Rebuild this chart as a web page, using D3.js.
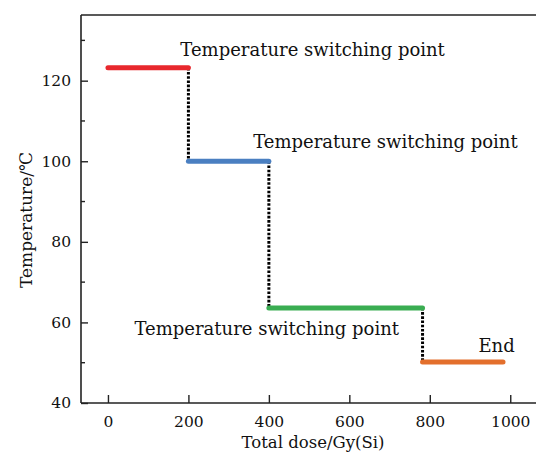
<!DOCTYPE html>
<html>
<head>
<meta charset="utf-8">
<script src="https://cdn.jsdelivr.net/npm/d3@7"></script>
<style>
  body { margin: 0; background: #fff; }
  svg text { font-family: "DejaVu Serif", serif; fill: #111; }
</style>
</head>
<body>
<svg id="chart" width="536" height="457"></svg>
<script>
// dose segments (Gy(Si)) and the temperature held over each one
const segStart = [0, 200, 400, 782];
const segEnd = [200, 400, 782, 982];
const segTemp = [123.2, 100, 63.6, 50.2];
const segColor = ["#e8282d", "#4a7fc1", "#3aad52", "#e36f2c"];

const xTicks = [0, 200, 400, 600, 800, 1000];
const yTicks = [40, 60, 80, 100, 120];
const yMinor = [50, 70, 90, 110, 130];

const labelText = ["Temperature switching point", "Temperature switching point", "Temperature switching point", "End"];
const labelX = [180, 361, 66, 921];
const labelY = [126.2, 103.2, 56.9, 52.7];

const svg = d3.select("#chart");
const width = 536, height = 457;
const margin = { top: 15, right: 0, bottom: 54, left: 81 };

const x = d3.scaleLinear().domain([-67, 1064]).range([margin.left, width - margin.right]);
const y = d3.scaleLinear().domain([40, 136.3]).range([height - margin.bottom, margin.top]);

// frame: left and top lines
const frame = svg.append("g").attr("stroke", "#222").attr("stroke-width", 1.6).attr("fill", "none");
frame.append("line").attr("x1", margin.left).attr("x2", margin.left).attr("y1", margin.top).attr("y2", height - margin.bottom);
frame.append("line").attr("x1", margin.left).attr("x2", width).attr("y1", margin.top).attr("y2", margin.top);

// x axis, ticks pointing inward
const xAxis = svg.append("g")
  .attr("transform", `translate(0,${height - margin.bottom})`)
  .call(d3.axisBottom(x).tickValues(xTicks).tickFormat(d3.format("d"))
    .tickSizeInner(-8).tickSizeOuter(0).tickPadding(13));
xAxis.select(".domain").attr("stroke", "#222").attr("stroke-width", 1.6)
  .attr("d", `M${margin.left},0H${width}`);
xAxis.selectAll(".tick line").attr("stroke", "#222").attr("stroke-width", 1.4);
xAxis.selectAll("text").style("font-size", "15.5px").attr("fill", "#111");

// y axis
const yAxis = svg.append("g")
  .attr("transform", `translate(${margin.left},0)`)
  .call(d3.axisLeft(y).tickValues(yTicks).tickSizeInner(-7).tickSizeOuter(0).tickPadding(10));
yAxis.select(".domain").remove();
yAxis.selectAll(".tick line").attr("stroke", "#222").attr("stroke-width", 1.4);
yAxis.selectAll("text").style("font-size", "15.5px").attr("fill", "#111");

svg.append("g")
  .selectAll("line")
  .data(yMinor)
  .join("line")
  .attr("x1", margin.left)
  .attr("x2", margin.left + 4)
  .attr("y1", (d) => y(d))
  .attr("y2", (d) => y(d))
  .attr("stroke", "#222")
  .attr("stroke-width", 1.4);

// dotted drops between the levels
const drops = d3.range(segStart.length - 1);
svg.append("g")
  .selectAll("line")
  .data(drops)
  .join("line")
  .attr("x1", (i) => x(segEnd[i]))
  .attr("x2", (i) => x(segEnd[i]))
  .attr("y1", (i) => y(segTemp[i]))
  .attr("y2", (i) => y(segTemp[i + 1]))
  .attr("stroke", "#000")
  .attr("stroke-width", 3)
  .attr("stroke-dasharray", "2.6,1.6");

// coloured levels
svg.append("g")
  .selectAll("line")
  .data(segStart)
  .join("line")
  .attr("x1", (d, i) => x(segStart[i]))
  .attr("x2", (d, i) => x(segEnd[i]))
  .attr("y1", (d, i) => y(segTemp[i]))
  .attr("y2", (d, i) => y(segTemp[i]))
  .attr("stroke", (d, i) => segColor[i])
  .attr("stroke-width", 5)
  .attr("stroke-linecap", "round");

// annotations
svg.append("g")
  .selectAll("text")
  .data(labelText)
  .join("text")
  .attr("x", (d, i) => x(labelX[i]))
  .attr("y", (d, i) => y(labelY[i]))
  .style("font-size", "18px")
  .text((d) => d);

// axis titles
svg.append("text")
  .attr("x", 313)
  .attr("y", 448)
  .attr("text-anchor", "middle")
  .style("font-size", "16.5px")
  .text("Total dose/Gy(Si)");

svg.append("text")
  .attr("transform", "translate(32,220) rotate(-90)")
  .attr("text-anchor", "middle")
  .style("font-size", "17px")
  .text("Temperature/℃");
</script>
</body>
</html>
